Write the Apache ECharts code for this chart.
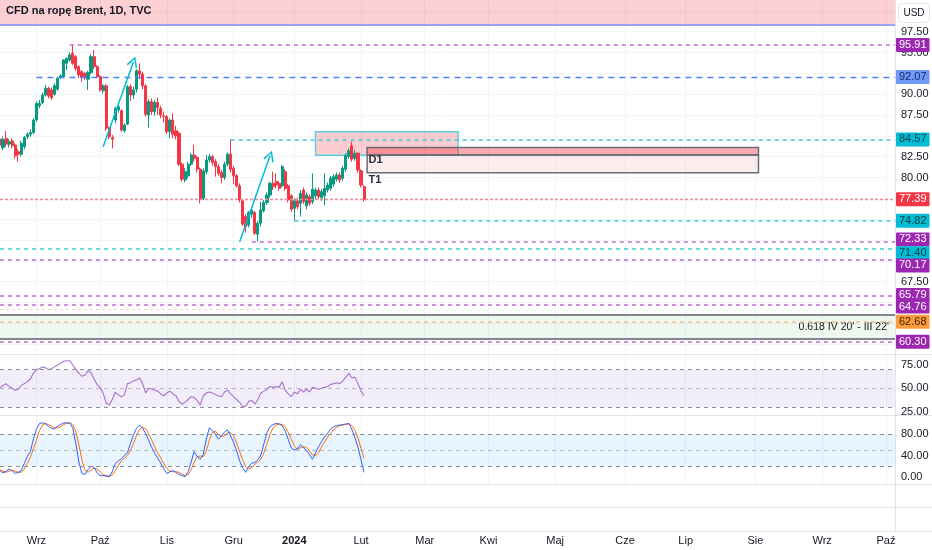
<!DOCTYPE html>
<html><head><meta charset="utf-8">
<script src="https://cdn.jsdelivr.net/npm/echarts@6/dist/echarts.min.js"></script>
<style>html,body{margin:0;padding:0;background:#fff}#c{width:932px;height:550px}</style>
</head><body><div id="c"></div>
<script>
// ---------------- DATA ----------------
const TITLE = 'CFD na ropę Brent, 1D, TVC';
const CURRENCY = 'USD';
const MONTHS_PL = ['Sty','Lut','Mar','Kwi','Maj','Cze','Lip','Sie','Wrz','Paź','Lis','Gru'];
const FIRST_DAY = [2023, 7, 16];           // first bar on the chart (Aug 16, 2023)
const BAR_SLOTS = 296;                     // bars incl. empty future space up to early Oct 2024
const HOLIDAYS = ['2023-12-25', '2024-01-01'];

const opens = [84.6,83.6,84.7,84.0,84.4,83.9,83.1,82.8,83.7,84.9,
 85.2,85.4,86.9,88.6,89.0,89.9,90.7,90.5,90.0,90.6,
 92.0,92.1,93.7,94.1,94.9,94.5,93.3,92.7,92.5,91.8,
 92.6,94.5,93.3,92.1,90.4,91.0,85.9,84.8,86.9,88.1,
 88.0,85.6,86.4,90.9,89.9,90.6,92.8,92.4,91.0,87.5,
 89.1,87.9,89.0,88.3,87.4,87.3,85.5,86.9,85.6,85.3,
 81.6,79.7,80.2,81.6,82.7,82.4,81.0,77.5,80.7,82.1,
 82.5,81.9,81.3,80.6,80.0,81.6,82.8,81.1,80.2,79.0,
 77.2,75.3,74.3,75.6,75.8,73.2,74.5,76.0,77.0,77.9,
 79.3,79.5,79.3,79.0,80.7,79.0,77.8,76.3,77.2,76.9,
 78.5,76.6,77.7,77.1,77.8,78.5,77.6,77.8,78.5,78.7,
 79.2,79.8,80.3,79.9,81.0,82.5,83.8,82.3,82.9,80.8,
 78.9];
const closes = [83.9,84.6,84.0,84.3,83.8,82.6,82.8,84.1,84.8,85.2,
 85.4,86.9,88.9,88.9,89.9,90.7,89.8,89.6,91.0,91.9,
 92.2,94.1,94.3,94.7,93.7,93.1,92.3,92.0,92.0,92.6,
 94.5,93.3,92.1,90.5,91.0,85.9,84.9,84.6,88.3,88.5,
 85.7,86.3,90.9,89.9,90.5,92.8,92.4,91.0,87.6,89.1,
 87.9,89.0,88.4,87.5,87.3,85.5,86.9,85.2,85.0,81.6,
 79.8,80.7,81.6,82.7,82.3,81.0,77.5,80.8,82.1,82.5,
 81.8,81.3,80.5,80.0,81.6,82.8,81.0,80.2,79.0,77.3,
 74.4,74.1,75.8,76.1,73.3,74.5,76.1,77.0,77.9,79.3,
 78.9,79.1,78.7,81.3,78.7,77.3,76.2,77.2,76.5,78.1,
 77.1,77.9,76.9,78.6,78.5,77.7,78.3,78.7,79.1,79.9,
 80.1,80.3,79.7,81.1,82.6,83.2,82.2,82.9,80.9,79.1,
 77.39];
const lows = [83.5,83.3,83.7,83.6,83.5,82.3,81.9,82.5,83.4,84.6,
 84.9,85.2,86.7,88.3,88.8,89.7,89.5,89.3,89.8,90.4,
 91.8,92.0,92.9,93.9,93.5,92.8,91.9,91.5,91.7,90.5,
 92.4,93.0,91.9,90.3,90.1,85.6,84.6,83.5,86.5,87.8,
 85.5,85.4,86.3,89.2,89.4,90.2,91.8,90.6,87.3,86.0,
 87.5,87.4,87.5,87.1,86.6,85.2,84.7,84.7,84.6,81.4,
 79.5,79.4,79.9,81.4,81.9,80.6,76.9,77.3,80.4,81.8,
 81.4,80.1,80.2,79.3,79.7,81.3,80.6,79.2,78.8,77.0,
 74.2,73.4,74.0,75.2,73.1,72.33,74.1,75.8,76.7,77.6,
 78.5,78.7,78.4,78.8,78.4,77.0,75.9,74.82,76.2,75.3,
 76.8,76.2,76.6,76.8,77.4,77.4,77.2,76.7,78.2,78.4,
 78.9,79.5,79.4,79.6,80.7,82.2,81.9,82.0,80.6,78.8,
 77.1];
const highs = [85.2,84.9,85.6,84.6,84.7,84.1,83.4,84.4,85.0,85.4,
 85.8,87.1,89.1,89.3,90.2,91.1,90.9,90.8,91.3,92.1,
 92.4,94.2,94.4,95.0,95.91,94.7,93.5,92.9,92.7,92.8,
 94.8,95.3,93.5,92.3,91.2,91.2,86.1,85.1,88.5,88.9,
 88.2,86.5,91.1,91.2,90.9,93.0,93.7,92.7,91.2,89.4,
 89.5,89.3,89.6,88.6,87.9,87.5,87.1,87.7,86.2,85.5,
 81.8,81.1,81.9,82.9,83.9,82.6,81.2,81.1,82.7,82.8,
 82.7,82.2,81.6,80.9,81.9,83.0,84.6,81.4,80.4,79.3,
 77.4,75.6,76.0,76.4,76.0,74.8,77.1,77.3,78.2,79.5,
 80.7,80.5,79.6,81.5,81.0,79.2,78.0,77.5,77.6,78.5,
 78.8,78.2,78.0,80.5,78.8,78.8,78.6,80.5,79.4,80.2,
 80.4,80.6,80.6,81.4,82.9,83.5,84.3,83.3,83.0,81.0,
 79.1];
const rsiValues = [50.6,53,55,52,50,48,49,53,55,57,
 60,66,70,71,73,72,70,71,73,75,
 77,79,79.5,79.5,75,70,66,63,64,69,
 67,60,54,51,45,34,32,38,46,43,
 41,43,55,56,58,59,61,55,45,50,
 49,48,47,44,42,45,47,44,42,36,
 33,35,38,41,40,37,32,42,45,46,
 45,43,42,41,46,48,44,41,38,35,
 30,31,36,37,33,38,45,47,49,52,
 51,52,51,57,48,44,41,46,44,49,
 46,49,46,51,50,49,50,51,52,54,
 55,56,55,58,62,66,61,62,55,47,
 42];
const stochK = [12,8,11,15,12,7,9,12,25,38,
 47,70,88,99,100,98,94,90,89,94,
 97,100,100,100,90,62,28,7,5,14,
 20,18,8,3,3,2,1,10,25,30,
 34,40,45,62,78,90,96,90,81,68,
 55,44,35,26,15,7,10,12,9,5,
 3,1,10,28,47,38,33,42,70,91,
 86,79,70,76,83,87,76,64,48,30,
 17,9,20,26,27,32,41,62,82,93,
 97,99,98,95,85,70,54,50,52,60,
 55,49,42,33,45,56,66,74,81,89,
 93,95,96,97,98,99,88,73,55,32,
 9];
const stochD = [14,11,9,11,13,11,9,9,15,25,
 37,52,68,86,96,99,97,94,91,91,
 93,97,99,100,97,84,60,32,13,9,
 13,17,15,10,5,3,2,4,12,22,
 30,35,40,49,62,77,88,92,89,80,
 68,56,45,35,25,16,11,10,10,9,
 6,3,5,13,28,38,39,38,48,68,
 82,85,78,75,76,82,82,76,63,47,
 32,19,15,18,24,28,33,45,62,79,
 91,96,98,97,93,83,70,58,52,54,
 56,55,49,41,40,45,56,65,74,81,
 88,92,95,96,97,98,95,87,72,53,
 35];

// horizontal price levels: value, first bar, kind
const levelPrices = [95.91, 92.07, 84.57, 77.39, 74.82, 72.33, 71.40, 70.17, 65.79, 64.76, 62.68, 60.30];
const levelStarts = [23, 12, 76, 0, 97, 83, 0, 0, 0, 0, 0, 0];
const levelKinds  = ['purple','blue','cyan','last','cyan','purple','cyan','purple','purple','purple','orange','purple'];

const priceTicks  = [60,62.5,65,67.5,70,72.5,75,77.5,80,82.5,85,87.5,90,92.5,95,97.5,100];
const priceLabels = [67.5, 80, 82.5, 87.5, 90, 95, 97.5];
const rsiLabels   = [25, 50, 75];
const stochLabels = [0, 40, 80];
const rsiBand = [30, 50, 70];
const stochBand = [20, 50, 80];

const topBand = [98.3, 101.3];
const fibZone = [60.6, 63.55];
const fibLabel = "0.618 IV 20' - III 22'";
const faintLevel = {price: 64.2, from: 0, to: 120};
const supplyBox = {from: 104, to: 151, low: 82.67, high: 85.5};
const d1Box = {from: 121, to: 250, low: 82.7, high: 83.6};
const t1Box = {from: 121, to: 250, low: 80.58, high: 82.7};
const boxTexts = [{text:'D1', bar:121, price:82.05}, {text:'T1', bar:121, price:79.7}];
const arrows = [[34, 83.7, 44, 93.9], [79, 72.3, 89, 82.6]];

// ---------------- STYLE ----------------
const FONT = '"Liberation Sans", Arial, sans-serif';
const KIND = {
  purple: {line: {color: '#c46ad4', type: [4, 4], width: 1.5}, bg: '#9c27b0', fg: '#ffffff'},
  blue:   {line: {color: '#4f80ff', type: [6, 5], width: 1.3}, bg: '#7098f6', fg: '#14286b'},
  cyan:   {line: {color: '#3fc9dc', type: [4, 4], width: 1.5}, bg: '#00bcd4', fg: '#0a3d44'},
  last:   {line: {color: '#f58a93', type: [3, 2], width: 1.4}, bg: '#f23645', fg: '#ffffff'},
  orange: {line: {color: '#f5c08c', type: [4, 4], width: 1.5}, bg: '#ff9b3d', fg: '#3b2400'}
};
// vertical nudges of crowded price-scale badges (px), as the price scale spreads them
const BADGE_NUDGE = {'72.33': -2, '71.40': 4, '70.17': 6, '65.79': -1, '64.76': 2};

// ---------------- BUILD ----------------
function buildDates() {
  const out = [];
  const d = new Date(Date.UTC(FIRST_DAY[0], FIRST_DAY[1], FIRST_DAY[2]));
  while (out.length < BAR_SLOTS) {
    const wd = d.getUTCDay();
    const s = d.toISOString().slice(0, 10);
    if (wd !== 0 && wd !== 6 && HOLIDAYS.indexOf(s) < 0) out.push(s);
    d.setUTCDate(d.getUTCDate() + 1);
  }
  return out;
}
const dates = buildDates();
const LAST = dates.length - 1;
const monthStart = dates.map((d, i) => i > 0 && d.slice(5, 7) !== dates[i - 1].slice(5, 7));
const candleData = opens.map((o, i) => [o, closes[i], lows[i], highs[i]]);

const levelLines = levelPrices.map((p, k) => {
  const st = KIND[levelKinds[k]];
  const txt = p.toFixed(2);
  const label = {show: true, position: 'end', distance: 1, formatter: txt, offset: [0, BADGE_NUDGE[txt] || 0],
    backgroundColor: st.bg, color: st.fg, padding: [2, 3, 1, 3], fontSize: 11, fontFamily: FONT, borderRadius: 1};
  if (levelStarts[k] === 0) return {yAxis: p, lineStyle: st.line, label};
  return [{coord: [levelStarts[k], p], lineStyle: st.line, label}, {coord: [LAST, p]}];
});

const CHEVRON = 'path://M0,0 L6,9 L4.6,10 L0,2.6 L-4.6,10 L-6,9 Z';
const arrowLines = arrows.map(a => [
  {coord: [a[0], a[1]], lineStyle: {color: '#00bcd4', width: 1.5, type: 'solid'}, label: {show: false}},
  {coord: [a[2], a[3]], symbol: CHEVRON, symbolSize: 11}
]);

const borderLines = [
  {yAxis: topBand[0], lineStyle: {color: '#9ea1f3', width: 2, type: 'solid'}, label: {show: false}},
  {yAxis: fibZone[1], lineStyle: {color: '#5d606b', width: 1.5, type: 'solid'}, label: {show: false}},
  {yAxis: fibZone[0], lineStyle: {color: '#5d606b', width: 1.5, type: 'solid'}, label: {show: false}},
  [{coord: [faintLevel.from, faintLevel.price], lineStyle: {color: 'rgba(242,54,69,0.22)', type: [3, 3], width: 1.2}, label: {show: false}},
   {coord: [faintLevel.to, faintLevel.price]}]
];

function xAxisFor(gridIndex, showLabels) {
  return {
    type: 'category', gridIndex, data: dates, boundaryGap: false,
    axisLine: {show: false}, axisTick: {show: false},
    splitLine: {show: true, interval: (i) => monthStart[i], lineStyle: {color: '#f0f3fa', width: 1}},
    axisLabel: {
      show: showLabels, interval: (i) => monthStart[i], margin: 51, color: '#131722', fontSize: 11, fontFamily: FONT,
      formatter: (v) => { const m = +v.slice(5, 7) - 1; return m === 0 ? '{y|' + v.slice(0, 4) + '}' : MONTHS_PL[m]; },
      rich: {y: {fontWeight: 'bold', fontSize: 11, color: '#131722', fontFamily: FONT}}
    }
  };
}
function yAxisFor(gridIndex, min, max, ticks, labels, showSplit) {
  return {
    type: 'value', gridIndex, position: 'right', min, max, scale: true,
    axisLine: {show: false},
    axisTick: {show: false, customValues: ticks},
    splitLine: {show: showSplit, lineStyle: {color: '#f2f4f8'}},
    axisLabel: {customValues: labels, formatter: (v) => v.toFixed(2), color: '#131722', fontSize: 11, fontFamily: FONT, margin: 6}
  };
}
function hLine(y) {
  return {type: 'line', z: 20, shape: {x1: 0, y1: y, x2: 932, y2: y}, style: {stroke: '#e0e3eb', lineWidth: 1}};
}

const chart = echarts.init(document.getElementById('c'), null, {renderer: 'canvas'});
chart.setOption({
  animation: false,
  backgroundColor: '#ffffff',
  grid: [
    {left: 0, right: 37, top: 0, height: 354, containLabel: false, outerBoundsMode: 'none'},
    {left: 0, right: 37, top: 355, height: 60, containLabel: false, outerBoundsMode: 'none'},
    {left: 0, right: 37, top: 416, height: 68, containLabel: false, outerBoundsMode: 'none'}
  ],
  xAxis: [xAxisFor(0, false), xAxisFor(1, false), xAxisFor(2, true)],
  yAxis: [
    yAxisFor(0, 58.82, 101.3, priceTicks, priceLabels, true),
    yAxisFor(1, 21.4, 85.7, rsiLabels, rsiLabels, false),
    yAxisFor(2, -12.5, 112.7, stochLabels, stochLabels, false)
  ],
  graphic: [
    {type: 'text', z: 30, left: 6, top: 5, style: {text: TITLE, font: 'bold 11px ' + FONT, fill: '#131722'}},
    {type: 'rect', z: 30, shape: {x: 898.5, y: 3.5, width: 31, height: 19, r: 4}, style: {fill: '#ffffff', stroke: '#e0e3eb', lineWidth: 1}},
    {type: 'text', z: 31, x: 914, y: 13, style: {text: CURRENCY, font: '10px ' + FONT, fill: '#131722', align: 'center', verticalAlign: 'middle'}},
    hLine(354.5), hLine(415.5), hLine(484.5), hLine(507.5), hLine(531.5),
    {type: 'line', z: 20, shape: {x1: 895.5, y1: 0, x2: 895.5, y2: 531}, style: {stroke: '#e0e3eb', lineWidth: 1}}
  ],
  series: [
    {
      type: 'line', name: 'annotations', xAxisIndex: 0, yAxisIndex: 0, data: [], clip: false, silent: true, z: 2,
      markArea: {
        silent: true, z: 1,
        data: [
          [{yAxis: topBand[0], itemStyle: {color: 'rgba(242,54,69,0.24)'}}, {yAxis: topBand[1]}],
          [{yAxis: fibZone[0], itemStyle: {color: 'rgba(76,175,80,0.09)'},
            label: {show: true, position: 'insideRight', distance: 6, formatter: fibLabel, color: '#131722', fontSize: 10.5, fontFamily: FONT}},
           {yAxis: fibZone[1]}],
          [{coord: [supplyBox.from, supplyBox.high], itemStyle: {color: 'rgba(242,54,69,0.25)', borderColor: '#5ccfe0', borderWidth: 1.5}},
           {coord: [supplyBox.to, supplyBox.low]}],
          [{coord: [d1Box.from, d1Box.high], itemStyle: {color: 'rgba(242,54,69,0.42)', borderColor: '#6a6d78', borderWidth: 1.5}},
           {coord: [d1Box.to, d1Box.low]}],
          [{coord: [t1Box.from, t1Box.high], itemStyle: {color: 'rgba(242,54,69,0.09)', borderColor: '#6a6d78', borderWidth: 1.5}},
           {coord: [t1Box.to, t1Box.low]}]
        ]
      },
      markLine: {
        silent: true, symbol: ['none', 'none'], z: 5,
        label: {show: false},
        data: borderLines.concat(levelLines).concat(arrowLines)
      },
      markPoint: {
        silent: true, z: 6,
        data: boxTexts.map(t => ({coord: [t.bar, t.price], symbol: 'rect', symbolSize: 1, itemStyle: {color: 'rgba(0,0,0,0)'},
          label: {show: true, position: 'right', distance: 1, formatter: t.text, color: '#2a2e39', fontWeight: 'bold', fontSize: 11, fontFamily: FONT}}))
      }
    },
    {
      type: 'candlestick', name: 'Brent', xAxisIndex: 0, yAxisIndex: 0, data: candleData, barWidth: 2.6, z: 3,
      itemStyle: {color: '#089981', color0: '#f23645', borderColor: '#089981', borderColor0: '#f23645', borderWidth: 1}
    },
    {
      type: 'line', name: 'RSI', xAxisIndex: 1, yAxisIndex: 1, data: rsiValues, showSymbol: false, clip: true,
      lineStyle: {color: '#a872cc', width: 1.1},
      markArea: {silent: true, data: [[{yAxis: rsiBand[0], itemStyle: {color: 'rgba(126,87,194,0.1)'}}, {yAxis: rsiBand[2]}]]},
      markLine: {silent: true, symbol: ['none', 'none'], label: {show: false},
        lineStyle: {color: '#8d9099', type: [4, 4], width: 1},
        data: [{yAxis: rsiBand[2]}, {yAxis: rsiBand[1], lineStyle: {color: 'rgba(141,144,153,0.6)'}}, {yAxis: rsiBand[0]}]}
    },
    {
      type: 'line', name: '%K', xAxisIndex: 2, yAxisIndex: 2, data: stochK, showSymbol: false, clip: true, z: 3,
      lineStyle: {color: '#2962ff', width: 1},
      markArea: {silent: true, data: [[{yAxis: stochBand[0], itemStyle: {color: 'rgba(33,150,243,0.1)'}}, {yAxis: stochBand[2]}]]},
      markLine: {silent: true, symbol: ['none', 'none'], label: {show: false},
        lineStyle: {color: '#8d9099', type: [4, 4], width: 1},
        data: [{yAxis: stochBand[2]}, {yAxis: stochBand[1], lineStyle: {color: 'rgba(141,144,153,0.6)'}}, {yAxis: stochBand[0]}]}
    },
    {
      type: 'line', name: '%D', xAxisIndex: 2, yAxisIndex: 2, data: stochD, showSymbol: false, clip: true, z: 2,
      lineStyle: {color: '#ff6d00', width: 1}
    }
  ]
});
</script></body></html>
